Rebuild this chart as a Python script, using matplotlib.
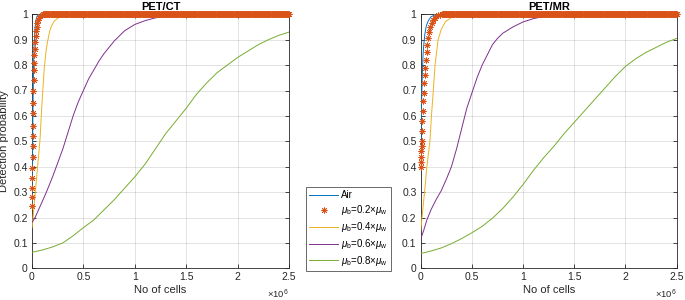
import matplotlib
matplotlib.use("Agg")
import matplotlib.pyplot as plt
import numpy as np
from matplotlib.ticker import FuncFormatter, MultipleLocator
from matplotlib.lines import Line2D

# ---------------- data ----------------
series_labels = ["Air",
                 r"$\mu_\mathrm{b}$=0.2$\times\mu_\mathrm{w}$",
                 r"$\mu_\mathrm{b}$=0.4$\times\mu_\mathrm{w}$",
                 r"$\mu_\mathrm{b}$=0.6$\times\mu_\mathrm{w}$",
                 r"$\mu_\mathrm{b}$=0.8$\times\mu_\mathrm{w}$"]
titles = ["PET/CT", "PET/MR"]

# PET/CT
ct_air_x = [0, 2e3, 4e3, 6e3, 8e3, 10e3, 13e3, 16e3, 20e3, 25e3, 30e3, 40e3, 50e3, 70e3, 2.5e6]
ct_air_y = [0.24, 0.33, 0.42, 0.50, 0.58, 0.65, 0.74, 0.81, 0.87, 0.92, 0.95, 0.98, 0.993, 1.0, 1.0]
ct_02_x = [0, 1e3, 2e3, 3e3, 4e3, 5e3, 6e3, 7e3, 8e3, 10e3, 12e3, 14e3, 16e3, 18e3, 20e3,
           23e3, 26e3, 30e3, 35e3, 40e3, 45e3, 52e3, 60e3, 70e3, 80e3, 95e3, 110e3]
ct_02_y = [0.245, 0.28, 0.315, 0.355, 0.395, 0.44, 0.48, 0.52, 0.56, 0.61, 0.65, 0.70, 0.74, 0.78, 0.81,
           0.84, 0.865, 0.89, 0.915, 0.935, 0.95, 0.965, 0.977, 0.987, 0.994, 0.998, 1.0]
ct_04_x = [0, 10e3, 20e3, 30e3, 40e3, 50e3, 60e3, 70e3, 80e3, 90e3, 100e3, 110e3, 120e3, 135e3,
           150e3, 170e3, 190e3, 220e3, 270e3, 320e3, 380e3, 2.5e6]
ct_04_y = [0.16, 0.20, 0.245, 0.29, 0.335, 0.38, 0.425, 0.47, 0.52, 0.60, 0.67, 0.73, 0.79, 0.85,
           0.89, 0.93, 0.955, 0.975, 0.99, 0.997, 1.0, 1.0]
ct_06_x = [0, 30e3, 80e3, 140e3, 200e3, 250e3, 300e3, 350e3, 400e3, 450e3, 500e3, 550e3, 600e3,
           650e3, 700e3, 800e3, 900e3, 1.0e6, 1.1e6, 1.2e6, 1.35e6, 1.5e6, 2.5e6]
ct_06_y = [0.18, 0.20, 0.245, 0.30, 0.36, 0.415, 0.47, 0.535, 0.60, 0.655, 0.70, 0.745, 0.78,
           0.815, 0.845, 0.895, 0.935, 0.96, 0.975, 0.986, 0.994, 0.998, 1.0]
ct_08_x = [0, 0.1e6, 0.2e6, 0.3e6, 0.4e6, 0.5e6, 0.6e6, 0.7e6, 0.8e6, 0.9e6, 1.0e6, 1.1e6, 1.2e6,
           1.3e6, 1.4e6, 1.5e6, 1.6e6, 1.7e6, 1.8e6, 1.9e6, 2.0e6, 2.1e6, 2.2e6, 2.3e6, 2.4e6, 2.5e6]
ct_08_y = [0.063, 0.072, 0.084, 0.10, 0.128, 0.16, 0.19, 0.23, 0.27, 0.315, 0.36, 0.41, 0.47,
           0.53, 0.58, 0.63, 0.685, 0.73, 0.77, 0.80, 0.83, 0.855, 0.88, 0.90, 0.917, 0.93]

# PET/MR
mr_air_x = [0, 3e3, 6e3, 10e3, 14e3, 18e3, 23e3, 30e3, 40e3, 55e3, 75e3, 100e3, 140e3, 200e3, 2.5e6]
mr_air_y = [0.45, 0.52, 0.60, 0.68, 0.74, 0.79, 0.84, 0.88, 0.92, 0.955, 0.975, 0.99, 0.998, 1.0, 1.0]
mr_02_x = [0, 2e3, 4e3, 6e3, 8e3, 10e3, 13e3, 16e3, 20e3, 24e3, 28e3, 33e3, 38e3, 44e3, 50e3,
           57e3, 65e3, 74e3, 84e3, 95e3, 107e3, 120e3, 135e3, 150e3, 170e3, 190e3, 210e3]
mr_02_y = [0.40, 0.42, 0.44, 0.46, 0.48, 0.50, 0.54, 0.58, 0.62, 0.66, 0.69, 0.73, 0.76, 0.79, 0.82,
           0.85, 0.88, 0.905, 0.93, 0.95, 0.965, 0.977, 0.986, 0.992, 0.997, 0.999, 1.0]
mr_04_x = [0, 13e3, 30e3, 45e3, 60e3, 75e3, 90e3, 105e3, 123e3, 140e3, 170e3, 200e3, 240e3,
           290e3, 340e3, 400e3, 2.5e6]
mr_04_y = [0.15, 0.20, 0.27, 0.33, 0.40, 0.45, 0.50, 0.60, 0.70, 0.80, 0.90, 0.94, 0.97,
           0.985, 0.995, 1.0, 1.0]
mr_06_x = [0, 30e3, 60e3, 100e3, 150e3, 200e3, 250e3, 300e3, 350e3, 400e3, 450e3, 500e3, 550e3,
           600e3, 650e3, 700e3, 750e3, 800e3, 900e3, 1.0e6, 1.1e6, 1.2e6, 1.35e6, 1.5e6, 2.5e6]
mr_06_y = [0.115, 0.15, 0.19, 0.23, 0.27, 0.305, 0.35, 0.40, 0.47, 0.55, 0.63, 0.69, 0.75,
           0.80, 0.84, 0.88, 0.905, 0.925, 0.95, 0.97, 0.983, 0.991, 0.997, 0.999, 1.0]
mr_08_x = [0, 0.1e6, 0.2e6, 0.3e6, 0.4e6, 0.5e6, 0.6e6, 0.7e6, 0.8e6, 0.9e6, 1.0e6, 1.1e6, 1.2e6,
           1.3e6, 1.4e6, 1.5e6, 1.6e6, 1.7e6, 1.8e6, 1.9e6, 2.0e6, 2.1e6, 2.2e6, 2.3e6, 2.4e6, 2.5e6]
mr_08_y = [0.058, 0.068, 0.08, 0.097, 0.117, 0.14, 0.165, 0.197, 0.235, 0.28, 0.33, 0.385, 0.435,
           0.48, 0.53, 0.575, 0.62, 0.665, 0.71, 0.755, 0.795, 0.825, 0.85, 0.87, 0.89, 0.905]

plateau_value = 1.0  # 0.2 series markers stay at 1 up to the end of the range
x_max = 2.5e6

# ---------------- style ----------------
colors = ["#0072BD", "#D95319", "#EDB120", "#7E2F8E", "#77AC30"]
axcol = "#262626"
plt.rcParams["font.family"] = ["Liberation Sans", "DejaVu Sans"]
plt.rcParams["mathtext.fontset"] = "custom"
plt.rcParams["mathtext.rm"] = "Liberation Sans"
plt.rcParams["mathtext.it"] = "Liberation Sans:italic"

fig = plt.figure(figsize=(6.85, 3.0), dpi=100)
ax_l = fig.add_axes([32/685, 31.7/300, 257/685, 254/300])
ax_r = fig.add_axes([420.7/685, 31.7/300, 256/685, 254/300])

asterisk = (8, 2, 0)
datasets = [
    (ax_l, ct_air_x, ct_air_y, ct_02_x, ct_02_y, ct_04_x, ct_04_y, ct_06_x, ct_06_y, ct_08_x, ct_08_y),
    (ax_r, mr_air_x, mr_air_y, mr_02_x, mr_02_y, mr_04_x, mr_04_y, mr_06_x, mr_06_y, mr_08_x, mr_08_y),
]


def ylab(v, p):
    return f"{v:.1f}".rstrip("0").rstrip(".") if round(v, 3) not in (0, 1) else f"{round(v):d}"


for (ax, ax_x, ax_y, x2, y2, x4, y4, x6, y6, x8, y8), title in zip(datasets, titles):
    ax.plot(ax_x, ax_y, color=colors[0], lw=0.7, zorder=3)
    # 0.2 markers: rising part + plateau at 1
    plat_x = np.arange(x2[-1] + 5e3, x_max + 1, 5e3)
    mx = np.concatenate([x2, plat_x])
    my = np.concatenate([y2, np.full(plat_x.shape, plateau_value)])
    ax.plot(mx, my, ls="none", marker=asterisk, ms=4.3, mew=0.6,
            color=colors[1], zorder=4, clip_on=False)
    ax.plot(x4, y4, color=colors[2], lw=0.7, zorder=3)
    ax.plot(x6, y6, color=colors[3], lw=0.7, zorder=3)
    ax.plot(x8, y8, color=colors[4], lw=0.7, zorder=3)

    ax.set_xlim(0, x_max)
    ax.set_ylim(0, 1)
    ax.xaxis.set_major_locator(MultipleLocator(0.5e6))
    ax.yaxis.set_major_locator(MultipleLocator(0.1))
    ax.xaxis.set_major_formatter(FuncFormatter(lambda v, p: f"{v/1e6:g}"))
    ax.yaxis.set_major_formatter(FuncFormatter(ylab))
    ax.grid(True, color=axcol, alpha=0.15, lw=0.6)
    ax.set_axisbelow(True)
    ax.tick_params(direction="in", length=3, width=0.6, colors=axcol, labelsize=7.5,
                   top=True, right=True, labeltop=False, labelright=False, pad=3)
    for s in ax.spines.values():
        s.set_color(axcol)
        s.set_linewidth(0.6)
    ax.set_title(title, fontsize=8, fontweight="bold", color="black", pad=3)
    ax.set_xlabel("No of cells", fontsize=8, color=axcol, labelpad=2)
    ax.text(1.0, -0.078, r"$\times$10$^6$", transform=ax.transAxes, ha="right", va="top",
            fontsize=6.8, color=axcol)

ax_l.set_ylabel("Detection probability", fontsize=8, color=axcol)
ax_l.yaxis.set_label_coords(-0.088, 0.5)

handles = [Line2D([], [], color=colors[0], lw=0.7),
           Line2D([], [], ls="none", marker=asterisk, ms=4.3, mew=0.6, color=colors[1]),
           Line2D([], [], color=colors[2], lw=0.7),
           Line2D([], [], color=colors[3], lw=0.7),
           Line2D([], [], color=colors[4], lw=0.7)]
leg = fig.legend(handles, series_labels, loc="center",
                 bbox_to_anchor=(307/685, 31/300, 83/685, 80/300),
                 fontsize=7, frameon=True, fancybox=False, handlelength=3.0,
                 handletextpad=0.3, borderpad=0.3, labelspacing=0.3, borderaxespad=0)
leg.get_frame().set_edgecolor(axcol)
leg.get_frame().set_linewidth(0.6)

fig.savefig("out.png", dpi=100)
